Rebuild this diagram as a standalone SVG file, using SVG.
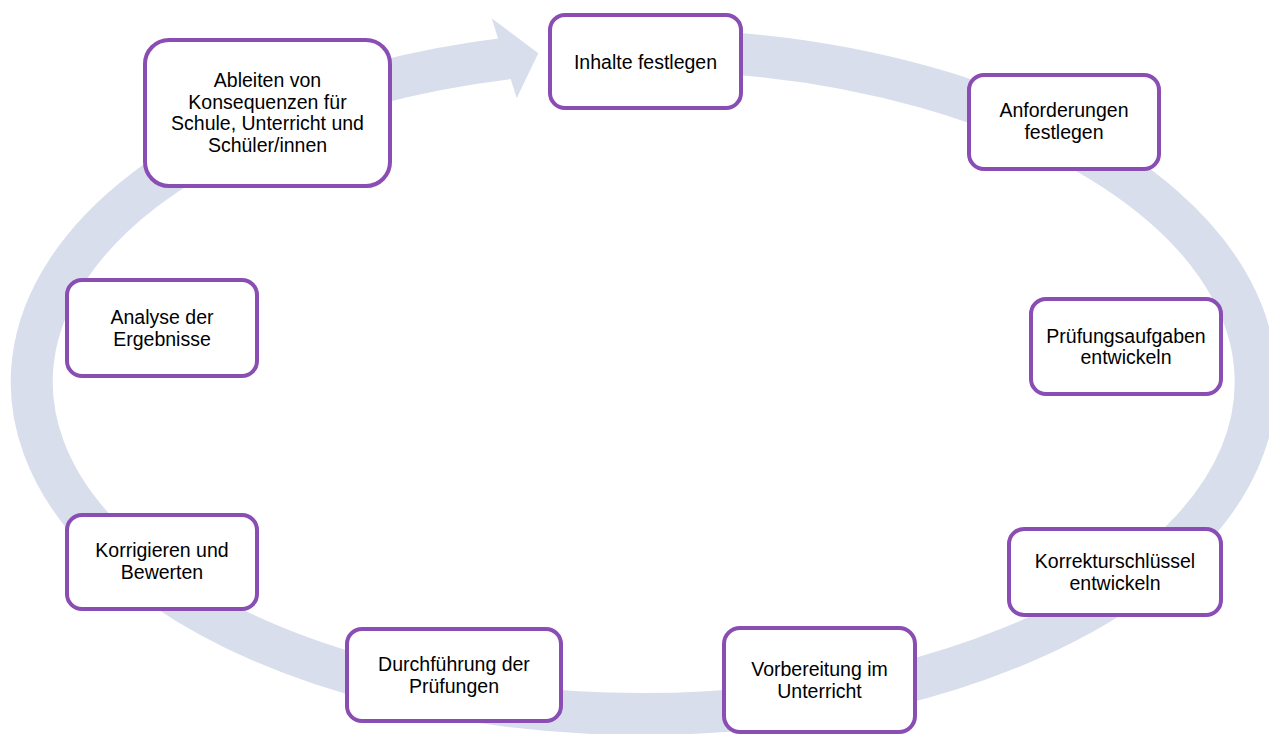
<svg xmlns="http://www.w3.org/2000/svg" width="1269" height="734" viewBox="0 0 1269 734">
<style>
.ring{fill:none;stroke:#D9DEED;stroke-width:42;stroke-linecap:butt}
.head{fill:#D9DEED;stroke:none}
.box{fill:#FFFFFF;stroke:#8A4DB3;stroke-width:4}
.lbl{font-family:"Liberation Sans",Arial,sans-serif;font-size:19.5px;fill:#000000;text-anchor:middle}
</style>
<rect width="1269" height="734" fill="#FFFFFF"/>
<g id="connectors">
<path class="ring" d="M 650 50 A 612 332 0 1 1 510 58"/>
<polygon class="head" points="491.7,18.3 538.3,53.3 516.7,98.3"/>
</g>
<g id="node-inhalte">
<rect class="box" x="550" y="15" width="191" height="93" rx="15"/>
<text class="lbl" x="645.5" y="68.5">Inhalte festlegen</text>
</g>
<g id="node-anforderungen">
<rect class="box" x="969" y="75" width="190" height="94" rx="15"/>
<text class="lbl" x="1064" y="117.3">Anforderungen</text>
<text class="lbl" x="1064" y="138.8">festlegen</text>
</g>
<g id="node-pruefungsaufgaben">
<rect class="box" x="1031" y="299" width="190" height="95" rx="15"/>
<text class="lbl" x="1126" y="342.8">Prüfungsaufgaben</text>
<text class="lbl" x="1126" y="364.3">entwickeln</text>
</g>
<g id="node-korrekturschluessel">
<rect class="box" x="1009" y="529" width="212" height="86" rx="15"/>
<text class="lbl" x="1115" y="568.3">Korrekturschlüssel</text>
<text class="lbl" x="1115" y="589.8">entwickeln</text>
</g>
<g id="node-vorbereitung">
<rect class="box" x="724" y="628" width="191" height="104" rx="16"/>
<text class="lbl" x="819.5" y="676.3">Vorbereitung im</text>
<text class="lbl" x="819.5" y="697.8">Unterricht</text>
</g>
<g id="node-durchfuehrung">
<rect class="box" x="347" y="629" width="214" height="92" rx="15"/>
<text class="lbl" x="454" y="671.3">Durchführung der</text>
<text class="lbl" x="454" y="692.8">Prüfungen</text>
</g>
<g id="node-korrigieren">
<rect class="box" x="67" y="515" width="190" height="94" rx="15"/>
<text class="lbl" x="162" y="557.3">Korrigieren und</text>
<text class="lbl" x="162" y="578.8">Bewerten</text>
</g>
<g id="node-analyse">
<rect class="box" x="67" y="280" width="190" height="96" rx="15"/>
<text class="lbl" x="162" y="324.3">Analyse der</text>
<text class="lbl" x="162" y="345.8">Ergebnisse</text>
</g>
<g id="node-ableiten">
<rect class="box" x="145" y="40" width="245" height="146" rx="24"/>
<text class="lbl" x="267.5" y="87.3">Ableiten von</text>
<text class="lbl" x="267.5" y="108.8">Konsequenzen für</text>
<text class="lbl" x="267.5" y="130.3">Schule, Unterricht und</text>
<text class="lbl" x="267.5" y="151.8">Schüler/innen</text>
</g>
</svg>
